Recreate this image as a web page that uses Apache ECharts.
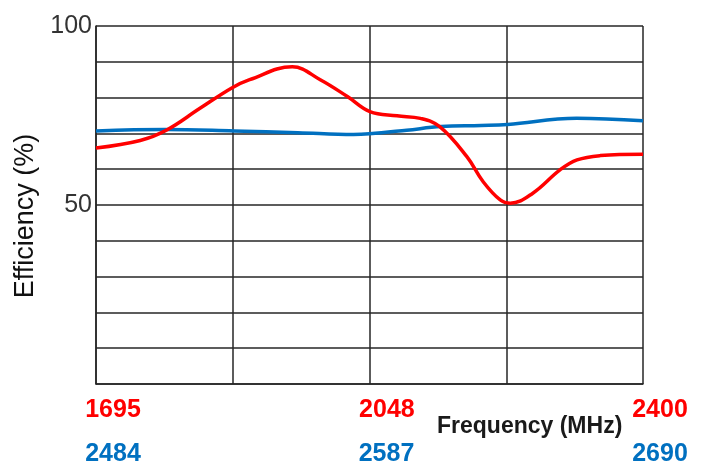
<!DOCTYPE html>
<html>
<head>
<meta charset="utf-8">
<script src="https://cdn.jsdelivr.net/npm/echarts@6/dist/echarts.min.js"></script>
<style>
  html, body { margin: 0; padding: 0; background: #fff; }
  #chart { width: 704px; height: 466px; }
</style>
</head>
<body>
<div id="chart"></div>
<script>
// 低频段 1695–2400 MHz（红线）
const lowFreq = [1695, 1752, 1785, 1829, 1870, 1893, 1948, 1984, 2019, 2048, 2083, 2113, 2138, 2173, 2194, 2216, 2229, 2258, 2293, 2315, 2345, 2400]
const lowEff = [65.9, 68.0, 70.8, 77.0, 82.7, 85.0, 88.6, 85.0, 80.3, 76.1, 74.9, 74.2, 71.9, 63.5, 56.5, 51.4, 50.5, 53.3, 59.8, 62.6, 63.8, 64.2]

// 高频段 2484–2690 MHz（蓝线）
const highFreq = [2484, 2510, 2536, 2560, 2581, 2587, 2601, 2614, 2629, 2639, 2665, 2690]
const highEff = [70.7, 71.1, 70.7, 70.2, 69.7, 69.9, 70.9, 71.9, 72.2, 72.5, 74.2, 73.5]

const lowTicks = [1695, 2048, 2400]
const highTicks = [2484, 2587, 2690]
const yTickLabels = [50, 100]

const RED = '#ff0000'
const BLUE = '#0070c0'
const FONT = '"Liberation Sans", Arial, sans-serif'

const chart = echarts.init(document.getElementById('chart'))

const gridLine = { lineStyle: { color: '#262626', width: 1.5 } }

const option = {
  animation: false,
  grid: { left: 96, right: 61, top: 26, bottom: 82, outerBoundsMode: 'none', containLabel: false },
  xAxis: [
    {
      type: 'value',
      min: 1695,
      max: 2400,
      position: 'bottom',
      axisLine: { show: true, lineStyle: { color: '#262626', width: 1.5 } },
      axisTick: { show: false },
      splitLine: { show: false },
      axisLabel: {
        customValues: lowTicks,
        formatter: v => String(Math.round(v)),
        color: RED,
        fontSize: 25,
        fontWeight: 'bold',
        fontFamily: FONT,
        margin: 14,
        padding: [0, 0, 0, 34]
      }
    },
    {
      type: 'value',
      min: 2484,
      max: 2690,
      position: 'bottom',
      offset: 44,
      axisLine: { show: false },
      axisTick: { show: false },
      splitLine: { show: false },
      axisLabel: {
        customValues: highTicks,
        formatter: v => String(Math.round(v)),
        color: BLUE,
        fontSize: 25,
        fontWeight: 'bold',
        fontFamily: FONT,
        margin: 14,
        padding: [0, 0, 0, 34]
      }
    },
    {
      // 只用来画竖向网格线
      type: 'value',
      min: 0,
      max: 4,
      interval: 1,
      position: 'top',
      axisLine: { show: false },
      axisTick: { show: false },
      axisLabel: { show: false },
      splitLine: { show: true, ...gridLine }
    }
  ],
  yAxis: {
    type: 'value',
    min: 0,
    max: 100,
    interval: 10,
    name: 'Efficiency (%)',
    nameLocation: 'middle',
    nameGap: 52,
    nameTextStyle: {
      color: '#111',
      fontSize: 27,
      fontFamily: FONT,
      padding: [0, 22, 0, 0]
    },
    axisLine: { show: true, lineStyle: { color: '#262626', width: 1.5 } },
    axisTick: { show: false },
    splitLine: { show: true, ...gridLine },
    axisLabel: {
      color: '#333',
      fontSize: 25,
      fontFamily: FONT,
      margin: 4,
      formatter: v => (yTickLabels.includes(v) ? String(v) : '')
    }
  },
  graphic: [
    {
      type: 'text',
      left: 437,
      top: 415,
      style: {
        text: 'Frequency (MHz)',
        fill: '#1a1a1a',
        font: 'bold 23px ' + FONT
      }
    }
  ],
  series: [
    {
      name: '1695-2400',
      type: 'line',
      xAxisIndex: 0,
      smooth: 0.4,
      symbol: 'none',
      data: lowFreq.map((f, i) => [f, lowEff[i]]),
      lineStyle: { color: RED, width: 3.5 },
      z: 3
    },
    {
      name: '2484-2690',
      type: 'line',
      xAxisIndex: 1,
      smooth: 0.4,
      symbol: 'none',
      data: highFreq.map((f, i) => [f, highEff[i]]),
      lineStyle: { color: BLUE, width: 3.5 },
      z: 2
    }
  ]
}

chart.setOption(option)
</script>
</body>
</html>
